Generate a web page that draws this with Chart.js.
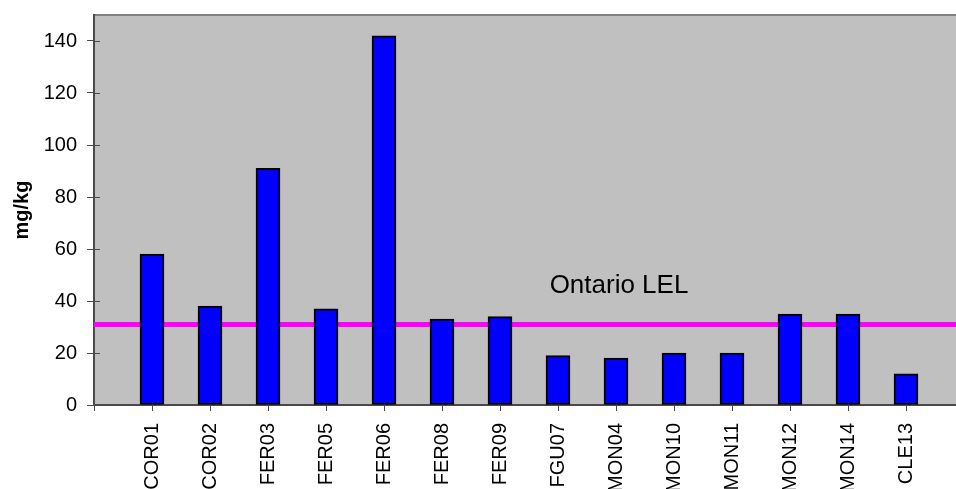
<!DOCTYPE html>
<html>
<head>
<meta charset="utf-8">
<script src="https://cdn.jsdelivr.net/npm/chart.js@4/dist/chart.umd.min.js"></script>
<style>
  html, body { margin: 0; padding: 0; background: #ffffff; }
  #wrap { width: 956px; height: 489px; overflow: hidden; position: relative; }
  canvas { display: block; }
</style>
</head>
<body>
<div id="wrap"><canvas id="c" width="980" height="520"></canvas></div>
<script>
// Sampling stations (blank slots pad both ends of the category axis)
const stations = ['', 'COR01', 'COR02', 'FER03', 'FER05', 'FER06', 'FER08', 'FER09',
                  'FGU07', 'MON04', 'MON10', 'MON11', 'MON12', 'MON14', 'CLE13', ''];
// Concentration, mg/kg
const concentration = [null, 58, 38, 91, 37, 142, 33, 34, 19, 18, 20, 20, 35, 35, 12, null];
// Ontario Lowest Effect Level
const lelValue = 31;
const lelLine = stations.map(() => lelValue);
const lelLabel = 'Ontario LEL';
const lelLabelAt = { station: 'MON04', value: 46 };
const yTicks = [0, 20, 40, 60, 80, 100, 120, 140];

const FONT = 'Liberation Sans, Arial, sans-serif';
const AXIS = '#4a4a4a';

const plotFrame = {
  id: 'plotFrame',
  beforeDraw(chart) {
    const { ctx, chartArea: a } = chart;
    ctx.save();
    ctx.fillStyle = '#c0c0c0';
    ctx.fillRect(a.left, a.top, a.right - a.left, a.bottom - a.top);
    ctx.strokeStyle = '#808080';
    ctx.lineWidth = 2;
    ctx.beginPath();
    ctx.moveTo(a.left, a.top);
    ctx.lineTo(a.right, a.top);
    ctx.lineTo(a.right, a.bottom);
    ctx.stroke();
    ctx.restore();
  },
  afterDraw(chart) {
    const { ctx, chartArea: a, scales } = chart;
    const y = scales.y;
    ctx.save();
    // inner half of the value-axis tick marks
    ctx.strokeStyle = AXIS;
    ctx.lineWidth = 1;
    y.ticks.forEach(t => {
      const py = Math.round(y.getPixelForValue(t.value)) + 0.5;
      ctx.beginPath();
      ctx.moveTo(a.left, py);
      ctx.lineTo(a.left + 6, py);
      ctx.stroke();
    });
    ctx.restore();
  },
  afterDatasetsDraw(chart) {
    const { ctx, scales } = chart;
    ctx.save();
    ctx.fillStyle = '#000';
    ctx.font = '26px ' + FONT;
    ctx.textAlign = 'center';
    ctx.textBaseline = 'middle';
    const px = scales.x.getPixelForValue(stations.indexOf(lelLabelAt.station));
    const py = scales.y.getPixelForValue(lelLabelAt.value);
    ctx.fillText(lelLabel, px + 3, py);
    ctx.restore();
  }
};

new Chart(document.getElementById('c'), {
  data: {
    labels: stations,
    datasets: [
      {
        type: 'bar',
        data: concentration,
        backgroundColor: '#0000ff',
        borderColor: '#000000',
        borderWidth: 2,
        borderSkipped: false,
        barThickness: 24,
        order: 0
      },
      {
        type: 'line',
        data: lelLine,
        borderColor: '#ff00ff',
        borderWidth: 5,
        pointRadius: 0,
        fill: false,
        order: 1
      }
    ]
  },
  options: {
    responsive: false,
    animation: false,
    devicePixelRatio: 1,
    layout: { padding: { top: 15, right: 16, left: 0, bottom: 0 } },
    plugins: { legend: { display: false }, tooltip: { enabled: false } },
    scales: {
      x: {
        offset: false,
        grid: { offset: false, drawOnChartArea: false, tickLength: 6, color: AXIS, tickWidth: 1 },
        border: { display: true, color: AXIS, width: 2 },
        ticks: {
          autoSkip: false,
          minRotation: 90,
          maxRotation: 90,
          padding: 12,
          color: '#000',
          font: { family: FONT, size: 20 }
        },
        afterFit(scale) {
          scale.height = 115;
          scale.paddingLeft = 0;
          scale.paddingRight = 0;
        }
      },
      y: {
        min: 0,
        max: 150,
        grid: { drawOnChartArea: false, tickLength: 7, color: AXIS, tickWidth: 1 },
        border: { display: true, color: AXIS, width: 2 },
        ticks: {
          stepSize: 20,
          padding: 10,
          color: '#000',
          font: { family: FONT, size: 20 }
        },
        title: {
          display: true,
          text: 'mg/kg',
          color: '#000',
          font: { family: FONT, size: 20, weight: 'bold', lineHeight: 1.2 },
          padding: { top: 10, bottom: 0 }
        },
        afterBuildTicks(scale) {
          scale.ticks = yTicks.map(v => ({ value: v }));
        },
        afterFit(scale) {
          scale.width = 94;
          scale.paddingTop = 0;
          scale.paddingBottom = 0;
        }
      }
    }
  },
  plugins: [plotFrame]
});
</script>
</body>
</html>
